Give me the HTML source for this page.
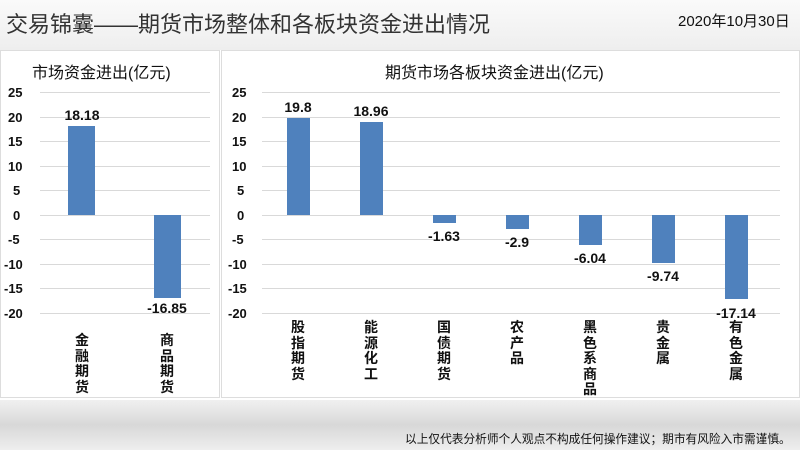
<!DOCTYPE html><html><head><meta charset="utf-8"><style>
body{margin:0;width:800px;height:450px;overflow:hidden;background:#fff;font-family:"Liberation Sans","Noto Sans CJK SC",sans-serif;position:relative}
.t{position:absolute;white-space:nowrap}
.v{position:absolute;font-weight:bold;font-size:14px;line-height:15.5px;width:16px;text-align:center;color:#111}
</style></head><body>
<div style="position:absolute;left:0;top:0;width:800px;height:50px;background:linear-gradient(#fafafa,#eeeeee)"></div>
<div class="t" style="left:6px;top:7px;font-size:22px;color:#333">交易锦囊——期货市场整体和各板块资金进出情况</div>
<div class="t" style="left:678px;top:10px;font-size:15px;color:#111">2020年10月30日</div>
<div style="position:absolute;left:0;top:50px;width:220px;height:348px;border:1px solid #ddd;background:#fff;box-sizing:border-box"></div>
<div style="position:absolute;left:221px;top:50px;width:579px;height:348px;border:1px solid #ddd;background:#fff;box-sizing:border-box"></div>
<div style="position:absolute;left:0;top:400px;width:800px;height:50px;background:linear-gradient(#f0f0f0,#d8d8d8 50%,#eeeeee)"></div>
<div class="t" style="left:405px;top:430px;font-size:11.7px;color:#111">以上仅代表分析师个人观点不构成任何操作建议；期市有风险入市需谨慎。</div>
<div class="t" style="left:32px;top:59px;font-size:16px;color:#111">市场资金进出(亿元)</div>
<div class="t" style="left:385px;top:59px;font-size:16px;color:#111">期货市场各板块资金进出(亿元)</div>
<svg width="800" height="450" style="position:absolute;left:0;top:0" font-family="Liberation Sans" font-weight="bold" font-size="13">
<g stroke="#d9d9d9" stroke-width="1">
<line x1="40" x2="210" y1="92.5" y2="92.5"/><line x1="40" x2="210" y1="117.5" y2="117.5"/><line x1="40" x2="210" y1="141.5" y2="141.5"/><line x1="40" x2="210" y1="166.5" y2="166.5"/><line x1="40" x2="210" y1="190.5" y2="190.5"/><line x1="40" x2="210" y1="215.5" y2="215.5"/><line x1="40" x2="210" y1="239.5" y2="239.5"/><line x1="40" x2="210" y1="264.5" y2="264.5"/><line x1="40" x2="210" y1="288.5" y2="288.5"/><line x1="40" x2="210" y1="313.5" y2="313.5"/>
<line x1="262" x2="780" y1="92.5" y2="92.5"/><line x1="262" x2="780" y1="117.5" y2="117.5"/><line x1="262" x2="780" y1="141.5" y2="141.5"/><line x1="262" x2="780" y1="166.5" y2="166.5"/><line x1="262" x2="780" y1="190.5" y2="190.5"/><line x1="262" x2="780" y1="215.5" y2="215.5"/><line x1="262" x2="780" y1="239.5" y2="239.5"/><line x1="262" x2="780" y1="264.5" y2="264.5"/><line x1="262" x2="780" y1="288.5" y2="288.5"/><line x1="262" x2="780" y1="313.5" y2="313.5"/>
</g>
<g fill="#111" text-anchor="start">
<text x="8" y="97">25</text><text x="8" y="122">20</text><text x="8" y="146">15</text><text x="8" y="171">10</text><text x="13" y="195">5</text><text x="13" y="220">0</text><text x="8" y="244">-5</text><text x="4" y="269">-10</text><text x="4" y="293">-15</text><text x="4" y="318">-20</text>
<text x="232" y="97">25</text><text x="232" y="122">20</text><text x="232" y="146">15</text><text x="232" y="171">10</text><text x="237" y="195">5</text><text x="237" y="220">0</text><text x="232" y="244">-5</text><text x="228" y="269">-10</text><text x="228" y="293">-15</text><text x="228" y="318">-20</text>
</g>
<g fill="#4f81bd">
<rect x="68" y="126" width="27" height="89"/><rect x="154" y="215" width="27" height="83"/>
<rect x="287" y="118" width="23" height="97"/><rect x="360" y="122" width="23" height="93"/><rect x="433" y="215" width="23" height="8"/><rect x="506" y="215" width="23" height="14"/><rect x="579" y="215" width="23" height="30"/><rect x="652" y="215" width="23" height="48"/><rect x="725" y="215" width="23" height="84"/>
</g>
<g fill="#111" text-anchor="middle" font-size="14">
<text x="82" y="120">18.18</text><text x="167" y="313">-16.85</text>
<text x="298" y="112">19.8</text><text x="371" y="116">18.96</text><text x="444" y="241">-1.63</text><text x="517" y="247">-2.9</text><text x="590" y="263">-6.04</text><text x="663" y="281">-9.74</text><text x="736" y="318">-17.14</text>
</g>
</svg>
<div class="v" style="left:74px;top:333px">金融期货</div>
<div class="v" style="left:159px;top:333px">商品期货</div>
<div class="v" style="left:290px;top:320px">股指期货</div>
<div class="v" style="left:363px;top:320px">能源化工</div>
<div class="v" style="left:436px;top:320px">国债期货</div>
<div class="v" style="left:509px;top:320px">农产品</div>
<div class="v" style="left:582px;top:320px">黑色系商品</div>
<div class="v" style="left:655px;top:320px">贵金属</div>
<div class="v" style="left:728px;top:320px">有色金属</div>
</body></html>
